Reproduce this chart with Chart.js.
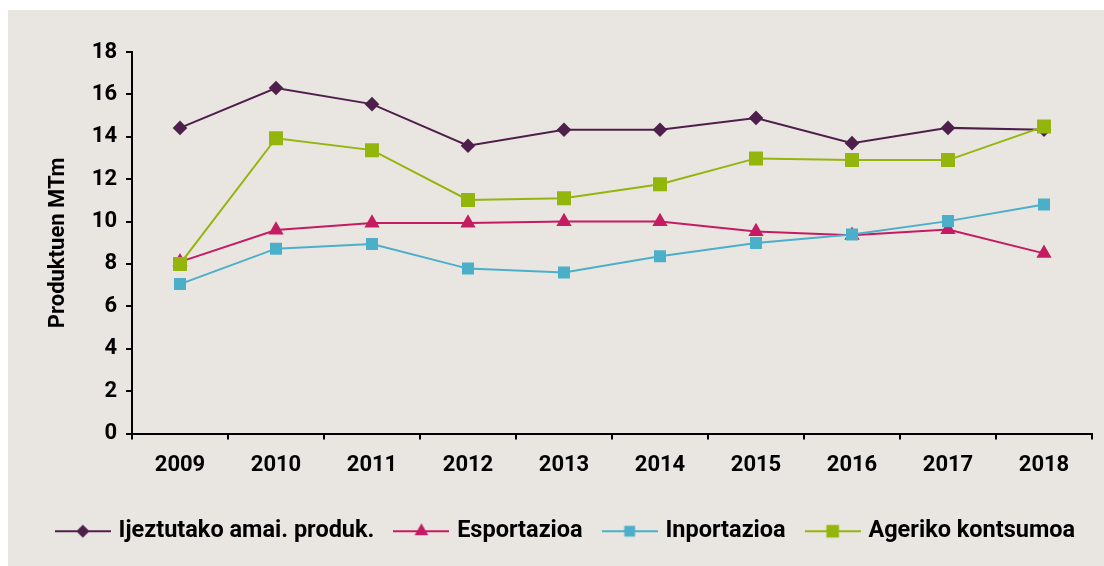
<!DOCTYPE html>
<html>
<head>
<meta charset="utf-8">
<script src="https://cdn.jsdelivr.net/npm/chart.js@4.4.0/dist/chart.umd.min.js"></script>
<style>
  html, body { margin: 0; padding: 0; background: #ffffff; }
  #panel { position: absolute; left: 8px; top: 10px; width: 1096px; height: 556px; background: #e9e6e1; }
  canvas { display: block; }
</style>
</head>
<body>
<div id="panel"><canvas id="c" width="1096" height="556"></canvas></div>
<script>
const years = ['2009','2010','2011','2012','2013','2014','2015','2016','2017','2018'];
const seriesNames = ['Ijeztutako amai. produk.', 'Esportazioa', 'Inportazioa', 'Ageriko kontsumoa'];
const ijeztutako = [14.42, 16.3, 15.54, 13.58, 14.33, 14.33, 14.89, 13.7, 14.42, 14.33];
const esportazioa = [8.1, 9.6, 9.93, 9.93, 10.0, 10.0, 9.53, 9.35, 9.62, 8.5];
const inportazioa = [7.05, 8.72, 8.94, 7.78, 7.6, 8.36, 8.99, 9.39, 10.02, 10.8];
const ageriko = [8.0, 13.93, 13.37, 11.02, 11.1, 11.76, 12.98, 12.9, 12.9, 14.48];
const yTicks = [0, 2, 4, 6, 8, 10, 12, 14, 16, 18];
const yTitle = 'Produktuen MTm';

const colors = ['#4f1f4b', '#c51b62', '#4bafc9', '#94b50b'];
const styles = ['rectRot', 'triangle', 'rect', 'rect'];
const radii = [7.3, 8.8, 8.5, 9.9];

function legendIcon(color, style, r) {
  const w = 56, h = 22;
  const cv = document.createElement('canvas');
  cv.width = w; cv.height = h;
  const g = cv.getContext('2d');
  g.strokeStyle = color; g.lineWidth = 2;
  g.beginPath(); g.moveTo(0, h / 2); g.lineTo(w, h / 2); g.stroke();
  g.fillStyle = color;
  const cx = w / 2, cy = h / 2;
  g.beginPath();
  if (style === 'rectRot') {
    g.moveTo(cx, cy - r); g.lineTo(cx + r, cy); g.lineTo(cx, cy + r); g.lineTo(cx - r, cy);
  } else if (style === 'triangle') {
    g.moveTo(cx, cy - r); g.lineTo(cx + r * 0.866, cy + r / 2); g.lineTo(cx - r * 0.866, cy + r / 2);
  } else {
    const s = r * Math.SQRT1_2;
    g.rect(cx - s, cy - s, 2 * s, 2 * s);
  }
  g.closePath(); g.fill();
  return cv;
}

const seriesData = [ijeztutako, esportazioa, inportazioa, ageriko];
const orders = [3, 2, 1, 0];
const datasets = seriesData.map((d, i) => ({
  label: seriesNames[i],
  data: d,
  borderColor: colors[i],
  backgroundColor: colors[i],
  borderWidth: 2,
  pointStyle: styles[i],
  pointRadius: radii[i],
  pointHoverRadius: radii[i],
  pointBorderWidth: 0,
  tension: 0,
  order: orders[i],
  legendIcon: legendIcon(colors[i], styles[i], radii[i] * 0.9)
}));

const FONT = 'Roboto, "Open Sans", sans-serif';

new Chart(document.getElementById('c'), {
  type: 'line',
  data: { labels: years, datasets: datasets },
  options: {
    responsive: false,
    animation: false,
    layout: { padding: { left: 22, right: 0, top: 42, bottom: 13 } },
    plugins: {
      tooltip: { enabled: false },
      legend: {
        position: 'bottom',
        labels: {
          usePointStyle: true,
          pointStyleWidth: 48,
          padding: 23,
          color: '#000',
          font: { family: FONT, size: 23.5, weight: 'bold' },
          generateLabels: (chart) => chart.data.datasets.map((ds, i) => ({
            text: ds.label,
            fillStyle: ds.borderColor,
            strokeStyle: ds.borderColor,
            lineWidth: 0,
            pointStyle: ds.legendIcon,
            datasetIndex: i,
            hidden: false
          }))
        }
      }
    },
    scales: {
      x: {
        offset: true,
        grid: { display: true, offset: true, drawOnChartArea: false, drawTicks: true, tickLength: 6, color: '#000', lineWidth: 2 },
        border: { display: true, color: '#000', width: 2 },
        ticks: { color: '#000', padding: 13, font: { family: FONT, size: 22, weight: 'bold' }, maxRotation: 0 },
        afterFit: (s) => { s.height = 63; }
      },
      y: {
        min: 0, max: 18,
        afterBuildTicks: (s) => { s.ticks = yTicks.map(v => ({ value: v })); },
        grid: { display: true, drawOnChartArea: false, drawTicks: true, tickLength: 6, color: '#000', lineWidth: 2 },
        border: { display: true, color: '#000', width: 2 },
        ticks: { color: '#000', padding: 9, font: { family: FONT, size: 22, weight: 'bold' } },
        title: { display: true, text: yTitle, color: '#000', padding: { top: 15, bottom: 0 }, font: { family: FONT, size: 22, weight: 'bold' } },
        afterFit: (s) => { s.width = 102; }
      },
      yRightSpacer: {
        position: 'right',
        display: true,
        min: 0, max: 18,
        grid: { display: false, drawTicks: false },
        border: { display: false },
        ticks: { display: false },
        afterFit: (s) => { s.width = 12; }
      }
    }
  }
});
</script>
</body>
</html>
